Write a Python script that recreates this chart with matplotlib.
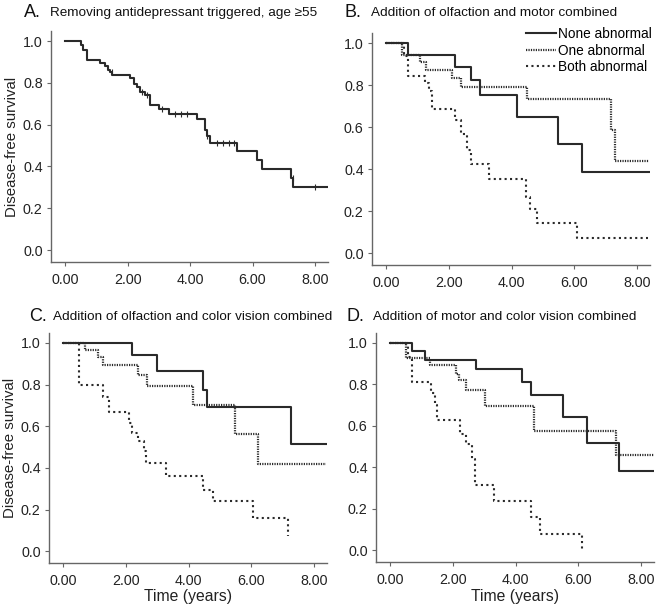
import matplotlib
matplotlib.use("Agg")
import matplotlib.pyplot as plt
import numpy as np

plt.rcParams['font.family'] = ['Liberation Sans', 'DejaVu Sans']

# ---------------- data ----------------
xticks = [0, 2, 4, 6, 8]
xticklabels = ["0.00", "2.00", "4.00", "6.00", "8.00"]
yticks = [0.0, 0.2, 0.4, 0.6, 0.8, 1.0]
yticklabels = ["0.0", "0.2", "0.4", "0.6", "0.8", "1.0"]

group_labels = ["None abnormal", "One abnormal", "Both abnormal"]

panel_letters = ["A.", "B.", "C.", "D."]
panel_titles = ["Removing antidepressant triggered, age \u226555",
                "Addition of olfaction and motor combined",
                "Addition of olfaction and color vision combined",
                "Addition of motor and color vision combined"]

# Panel A (single curve)
A_times = [0, 0.50, 0.57, 0.69, 1.10, 1.26, 1.36, 1.42, 1.50, 2.08, 2.19, 2.29, 2.40, 2.56,
           2.70, 2.99, 3.31, 4.21, 4.48, 4.55, 4.64, 5.49, 6.13, 6.29, 7.22, 7.31]
A_surv = [1.0, 0.979, 0.959, 0.911, 0.897, 0.88, 0.863, 0.85, 0.838, 0.823, 0.796, 0.78, 0.756,
          0.74, 0.693, 0.674, 0.650, 0.626, 0.573, 0.545, 0.513, 0.475, 0.43, 0.39, 0.345, 0.30]
A_end = 8.42
A_censor = [1.49, 2.45, 2.62, 3.10, 3.50, 3.70, 3.90, 4.55, 4.85, 5.05, 5.25, 5.42, 7.30, 8.00]

# Panel B
B_none_t = [0, 0.70, 2.19, 2.69, 2.98, 4.17, 5.48, 6.26]
B_none_s = [1.0, 0.944, 0.888, 0.822, 0.753, 0.647, 0.517, 0.387]
B_one_t = [0, 0.50, 1.08, 1.26, 2.09, 2.37, 4.49, 7.19, 7.29]
B_one_s = [1.0, 0.941, 0.912, 0.872, 0.832, 0.792, 0.735, 0.585, 0.440]
B_both_t = [0, 0.55, 0.68, 1.23, 1.36, 1.47, 2.19, 2.37, 2.58, 2.69, 3.27, 4.47, 4.60, 4.81, 6.08]
B_both_s = [1.0, 0.94, 0.843, 0.808, 0.77, 0.686, 0.633, 0.565, 0.49, 0.426, 0.354, 0.266, 0.21,
            0.143, 0.072]
B_ends = [8.4, 8.4, 8.35]

# Panel C
C_none_t = [0, 2.20, 2.99, 4.47, 4.58, 7.28]
C_none_s = [1.0, 0.941, 0.864, 0.776, 0.691, 0.517]
C_one_t = [0, 0.69, 1.09, 1.27, 2.38, 2.68, 4.15, 5.48, 6.23]
C_one_s = [1.0, 0.968, 0.931, 0.893, 0.848, 0.792, 0.700, 0.563, 0.421]
C_both_t = [0, 0.50, 1.25, 1.45, 2.09, 2.19, 2.38, 2.57, 2.65, 3.29, 4.45, 4.77, 6.06, 7.17]
C_both_s = [1.0, 0.797, 0.74, 0.669, 0.616, 0.568, 0.528, 0.48, 0.424, 0.36, 0.296, 0.243, 0.16,
            0.072]
C_ends = [8.4, 8.4, 7.17]

# Panel D
D_none_t = [0, 0.70, 1.10, 2.72, 4.20, 4.50, 5.51, 6.27, 7.31]
D_none_s = [1.0, 0.962, 0.919, 0.874, 0.810, 0.748, 0.643, 0.515, 0.383]
D_one_t = [0, 0.49, 1.28, 2.10, 2.20, 2.40, 3.01, 4.60, 7.20]
D_one_s = [1.0, 0.929, 0.894, 0.85, 0.82, 0.773, 0.696, 0.575, 0.459]
D_both_t = [0, 0.55, 0.70, 1.30, 1.41, 1.49, 2.21, 2.40, 2.61, 2.71, 3.30, 4.50, 4.79, 6.11]
D_both_s = [1.0, 0.93, 0.813, 0.76, 0.70, 0.626, 0.559, 0.511, 0.44, 0.313, 0.235, 0.16, 0.077,
            0.0]
D_ends = [8.42, 8.42, 6.11]

# ---------------- styles ----------------
line_col = '#2a2a2a'
styles = [dict(linestyle='-', linewidth=1.5, color=line_col),
          dict(linestyle=(0, (0.55, 0.55)), linewidth=1.6, color=line_col),
          dict(linestyle=(0, (1, 1.6)), linewidth=1.5, color=line_col)]

W, H = 657, 606
fig = plt.figure(figsize=(W / 100, H / 100), dpi=100)


def ax_at(left, right, top, bottom):
    return fig.add_axes([left / W, 1 - bottom / H, (right - left) / W, (bottom - top) / H])


axA = ax_at(51, 328, 31, 262)
axB = ax_at(372, 650, 33, 265)
axC = ax_at(49, 327, 333, 563)
axD = ax_at(376, 654, 333, 562)
axes = [axA, axB, axC, axD]

for ax in axes:
    ax.set_xlim(-0.46, 8.42)
    ax.set_ylim(-0.057, 1.048)
    ax.set_xticks(xticks)
    ax.set_xticklabels(xticklabels)
    ax.set_yticks(yticks)
    ax.set_yticklabels(yticklabels)
    for s in ['top', 'right']:
        ax.spines[s].set_visible(False)
    for s in ['left', 'bottom']:
        ax.spines[s].set_color('#666666')
        ax.spines[s].set_linewidth(1.0)
    ax.tick_params(direction='out', length=3, width=0.8, color='#666666',
                   labelsize=10.3, labelcolor='#222222', pad=3)
    ax.tick_params(axis='x', pad=5)


def km(ax, t, s, end, style, label=None):
    xs = list(t) + [end]
    ys = list(s) + [s[-1]]
    return ax.step(xs, ys, where='post', label=label, **style)[0]


# Panel A
km(axA, A_times, A_surv, A_end, styles[0])
ct = np.array(A_censor)
idx = np.searchsorted(np.array(A_times), ct, side='right') - 1
axA.plot(ct, np.array(A_surv)[idx], linestyle='none', marker='|', markersize=4,
         markeredgewidth=0.8, color=line_col)

# Panel B
handles = []
for t, s, e, st, lab in zip([B_none_t, B_one_t, B_both_t], [B_none_s, B_one_s, B_both_s],
                            B_ends, styles, group_labels):
    handles.append(km(axB, t, s, e, st, lab))
axB.legend(handles=handles, loc='upper right', bbox_to_anchor=(1.005, 1.025), frameon=False,
           fontsize=9.8, handlelength=2.2, handletextpad=0.1, labelspacing=0.18,
           borderaxespad=0.0, borderpad=0.0)

# Panel C
for t, s, e, st in zip([C_none_t, C_one_t, C_both_t], [C_none_s, C_one_s, C_both_s], C_ends, styles):
    km(axC, t, s, e, st)

# Panel D
for t, s, e, st in zip([D_none_t, D_one_t, D_both_t], [D_none_s, D_one_s, D_both_s], D_ends, styles):
    km(axD, t, s, e, st)

# labels
for ax in [axA, axC]:
    ax.set_ylabel("Disease-free survival", fontsize=10.8, color='#222222', labelpad=3)
for ax in [axC, axD]:
    ax.set_xlabel("Time (years)", fontsize=11.3, color='#222222', labelpad=1)

# panel titles
letter_pos = [(24, 17), (345, 17), (29, 321), (347, 321)]
title_pos = [(50, 16), (371, 16), (53, 320), (373, 320)]
for L, T, (lx, ly), (tx, ty) in zip(panel_letters, panel_titles, letter_pos, title_pos):
    fig.text(lx / W, 1 - ly / H, L, fontsize=13, va='baseline', ha='left', color='#111111')
    fig.text(tx / W, 1 - ty / H, T, fontsize=9.7, va='baseline', ha='left', color='#111111')

fig.savefig("out.png", dpi=100)
